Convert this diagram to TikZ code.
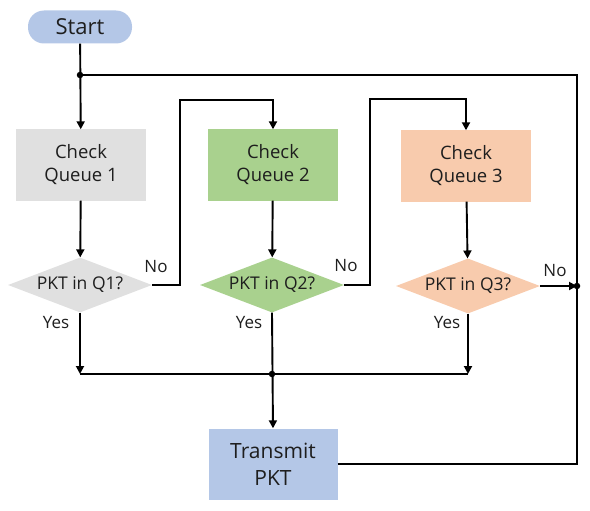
\documentclass[tikz,border=0pt]{standalone}
\usepackage{fontspec}
\setmainfont{Open Sans}
\usetikzlibrary{shapes.geometric,arrows.meta}
\definecolor{startblue}{HTML}{B4C7E7}
\definecolor{qgray}{HTML}{E0E0E0}
\definecolor{qgreen}{HTML}{A9D18E}
\definecolor{qsalmon}{HTML}{F8CBAD}
\definecolor{txt}{HTML}{1E1E1E}
\tikzset{
  box/.style={draw=none, rectangle, minimum width=130pt, minimum height=71pt, inner sep=0pt, align=center, text=txt, font=\fontsize{18.5}{23}\selectfont},
  dec/.style={draw=none, diamond, aspect=2.6, minimum width=144pt, minimum height=55pt, inner sep=0pt, text=txt, font=\fontsize{17.5}{20}\selectfont},
  arr/.style={line width=1.9pt, -{Triangle[length=8pt,width=8pt]}},
  ln/.style={line width=1.9pt},
  lbl/.style={text=txt, font=\fontsize{17}{20}\selectfont, inner sep=0pt},
  dot/.style={circle, fill=black, inner sep=0pt, minimum size=6.5pt}
}
\begin{document}
\begin{tikzpicture}[x=1pt,y=-1pt]
\useasboundingbox (0,0) rectangle (590,511);
\node[rectangle, rounded corners=16pt, fill=startblue, minimum width=104pt, minimum height=33pt, inner sep=0pt, text=txt, font=\fontsize{22}{26}\selectfont] (start) at (80,27) {Start};
\node[box, fill=qgray] (c1) at (81,165) {Check\\Queue 1};
\node[box, fill=qgreen] (c2) at (273,165) {Check\\Queue 2};
\node[box, fill=qsalmon] (c3) at (466,166) {Check\\Queue 3};
\node[dec, fill=qgray] (d1) at (80,285) {PKT in Q1?};
\node[dec, fill=qgreen] (d2) at (272,285) {PKT in Q2?};
\node[dec, fill=qsalmon] (d3) at (468,286) {PKT in Q3?};
\node[box, fill=startblue, minimum width=129pt, font=\fontsize{21}{27}\selectfont] (t) at (273,464) {Transmit\\PKT};
\coordinate (j0) at (80,75);
\coordinate (tr) at (577,75);
\coordinate (br) at (577,464);
\coordinate (jn) at (577,286);
\coordinate (y1) at (80,374);
\coordinate (y2) at (272,374);
\coordinate (y3) at (468,374);
\node[lbl] (no1) at (156,267) {No};
\node[lbl] (no2) at (346,266) {No};
\node[lbl] (no3) at (555,271) {No};
\node[lbl] (yes1) at (56,323) {Yes};
\node[lbl] (yes2) at (249,323) {Yes};
\node[lbl] (yes3) at (447,323) {Yes};
\draw[arr] (start) -- (c1);
\draw[arr] (c1) -- (d1);
\draw[arr] (c2) -- (d2);
\draw[arr] (c3) -- (d3);
\draw[arr] (d1.east) -| (180,100) -| (c2.north);
\draw[arr] (d2.east) -| (370,99) -| (c3.north);
\draw[arr] (d3.east) -- (jn);
\draw[ln] (t.east) -- (br) -- (tr) -- (j0);
\draw[arr] (d1.south) -- (y1);
\draw[arr] (d3.south) -- (y3);
\draw[ln] (y1) -- (y3);
\draw[arr] (d2.south) -- (t.north);
\node[dot] at (j0) {};
\node[dot] at (jn) {};
\node[dot] at (y2) {};
\end{tikzpicture}
\end{document}
